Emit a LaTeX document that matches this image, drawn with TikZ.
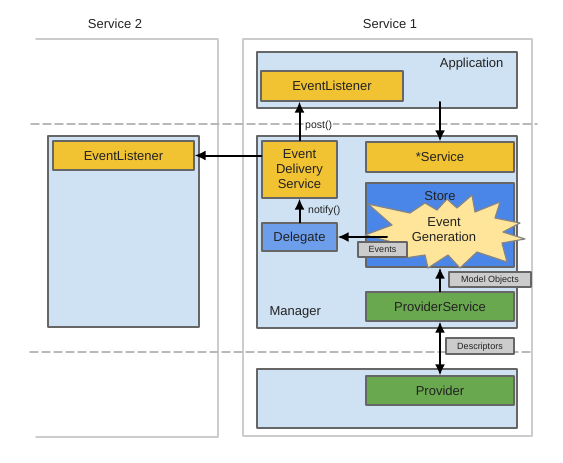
\documentclass[tikz,border=0pt]{standalone}
\usepackage{fontspec}
\usetikzlibrary{arrows.meta}
\setmainfont{Liberation Sans}
\definecolor{paleblue}{HTML}{CFE2F3}
\definecolor{ochre}{HTML}{F1C232}
\definecolor{storeblue}{HTML}{4A86E8}
\definecolor{delblue}{HTML}{6D9EEB}
\definecolor{leaf}{HTML}{6AA84F}
\definecolor{burst}{HTML}{FFE599}
\definecolor{edge}{HTML}{666666}
\definecolor{tagfill}{HTML}{CCCCCC}
\definecolor{ink}{HTML}{222222}
\begin{document}
\begin{tikzpicture}[x=1pt,y=-1pt,line cap=round,line join=round,>={Latex[length=11pt,width=10pt]},
  font=\fontsize{13}{15}\selectfont,text=ink,
  frame/.style={draw=gray!40,line width=1.6pt},
  divider/.style={gray!55,line width=1.5pt,dash pattern=on 8pt off 4pt},
  area/.style={draw=edge,fill=paleblue,line width=1.2pt,inner sep=0pt},
  comp/.style={draw=edge,line width=1.2pt,align=center,inner sep=0pt},
  oneline/.style={comp,text height=9.3pt,text depth=0pt},
  yellowbox/.style={comp,fill=ochre},
  greenbox/.style={oneline,fill=leaf},
  tag/.style={draw=edge,fill=tagfill,line width=1.2pt,inner sep=0pt,text height=6.5pt,text depth=0pt,font=\fontsize{9}{10}\selectfont},
  link/.style={line width=2pt,->},
  small/.style={font=\fontsize{10.5}{12}\selectfont,inner sep=1pt}]
  \useasboundingbox (0,0) rectangle (563,463);
  \draw[frame] (36,39) -- (218,39) -- (218,437) -- (36,437);
  \draw[frame] (243,39) rectangle (532,436);
  \node (s2title) at (115,24) {Service 2};
  \node (s1title) at (390,24) {Service 1};
  \draw[divider] (31,124) -- (537,124);
  \draw[divider] (30,352) -- (533,352);
  \node[area,minimum width=151pt,minimum height=191pt] (s2area) at (123.5,231.5) {};
  \node[area,minimum width=260pt,minimum height=56pt] (app) at (387,80) {};
  \node[area,minimum width=260pt,minimum height=192pt] (manager) at (387,232) {};
  \node[area,minimum width=260pt,minimum height=59pt] (provapp) at (387,398.5) {};
  \node[anchor=east] (applabel) at (507,64) {Application};
  \node[anchor=west] (mgrlabel) at (266,312) {Manager};
  \node[yellowbox,oneline,minimum width=141pt,minimum height=29pt] (listener2) at (123.5,155.5) {EventListener};
  \node[yellowbox,oneline,minimum width=142pt,minimum height=30pt] (applistener) at (332,86) {EventListener};
  \node[yellowbox,minimum width=75pt,minimum height=57pt] (eds) at (299.5,169.5) {Event\\Delivery\\Service};
  \node[yellowbox,oneline,minimum width=148pt,minimum height=30pt] (svc) at (440,157) {*Service};
  \node[comp,fill=storeblue,minimum width=148pt,minimum height=84pt] (store) at (440,225) {};
  \node[oneline,fill=delblue,minimum width=75pt,minimum height=28pt] (delegate) at (299.5,237) {Delegate};
  \node[greenbox,minimum width=148pt,minimum height=29pt] (psvc) at (440,306.5) {ProviderService};
  \node[greenbox,minimum width=148pt,minimum height=29pt] (prov) at (440,390.5) {Provider};
  \draw[fill=burst,draw=edge!80,line width=1.2pt]
    (368,204) -- (410,213) -- (425,203) -- (437,210) -- (447,199) -- (457,208)
    -- (472,195) -- (475,212) -- (500,202) -- (495,218) -- (520,223) -- (503,232)
    -- (525,239) -- (502,243) -- (507,262) -- (477,252) -- (460,268) -- (448,255)
    -- (428,268) -- (425,255) -- (405,258) -- (403,245) -- (365,235) -- (392,225) -- cycle;
  \node (storelabel) at (440,196) {Store};
  \node[align=center] (eventgen) at (444,230) {Event\\Generation};
  \node[tag,minimum width=49pt,minimum height=15pt] (events) at (382.5,249.5) {Events};
  \node[tag,minimum width=82pt,minimum height=15pt] (models) at (490,279.5) {Model Objects};
  \node[tag,minimum width=68pt,minimum height=16pt] (descriptors) at (480,346) {Descriptors};
  \coordinate (appout) at (440,102);
  \coordinate (burstout) at (387,237);
  \draw[link] (eds.north) -- (eds.north |- applistener.south);
  \draw[link] (appout) -- (svc.north);
  \draw[link] (eds.west |- listener2.east) -- (listener2.east);
  \draw[link] (delegate.north) -- (eds.south);
  \draw[link] (burstout) -- (delegate.east);
  \draw[link] (psvc.north) -- (store.south);
  \draw[link,<->] (psvc.south) -- (prov.north);
  \node[small,anchor=west,fill=white] (postlabel) at (304,126) {post()};
  \node[small,anchor=west] (notifylabel) at (307,211) {notify()};
\end{tikzpicture}
\end{document}
